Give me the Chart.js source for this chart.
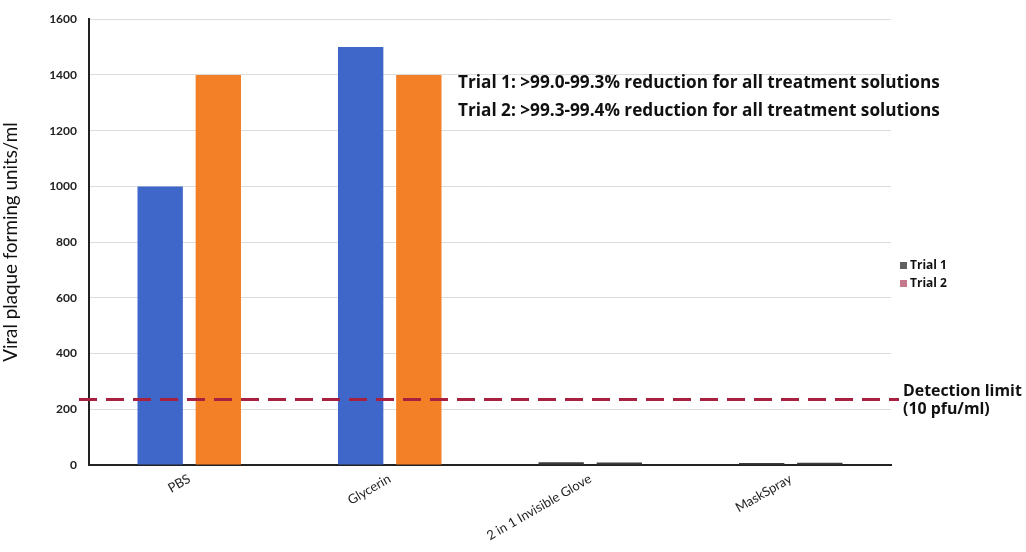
<!DOCTYPE html>
<html>
<head>
<meta charset="utf-8">
<script src="https://cdn.jsdelivr.net/npm/chart.js@4.4.1/dist/chart.umd.min.js"></script>
<style>
  html, body { margin:0; padding:0; background:#fff; }
  #wrap { width:1026px; height:552px; position:relative; }
</style>
</head>
<body>
<div id="wrap"><canvas id="myChart" width="1026" height="552"></canvas></div>
<script>
//-------------datos-----------------//
const categorias = ['PBS', 'Glycerin', '2 in 1 Invisible Glove', 'MaskSpray'];
const trial1 = [1000, 1500, 10, 7];
const trial2 = [1400, 1400, 9, 8];
const serieNombres = ['Trial 1', 'Trial 2'];
const limiteDeteccion = 235;
const notaLineas = ['Trial 1: >99.0-99.3% reduction for all treatment solutions',
                    'Trial 2: >99.3-99.4% reduction for all treatment solutions'];
const limiteTexto = ['Detection limit', '(10 pfu/ml)'];
const ejeY = 'Viral plaque forming units/ml';
//-----------------------------------//

const FUENTE = 'Lato, "Open Sans", sans-serif';
const FUENTE2 = '"Open Sans", Lato, sans-serif';
const AZUL = '#3f67c9';
const NARANJA = '#f37f27';

// tamaño de letra para que el texto ocupe un ancho dado
function tamFuente(c, texto, ancho, peso, familia){
	c.font = peso + ' 20px ' + familia;
	return Math.round(20 * ancho / c.measureText(texto).width * 10) / 10;
}

function colorBarra(base){
	// las barras casi vacias se ven como una linea oscura
	return function(ctx){
		return (ctx.raw < 50) ? '#3c3c3c' : base;
	};
}

const extras = {
	id: 'extras',
	afterDatasetsDraw(chart){
		const c = chart.ctx;
		const y = chart.scales.y.getPixelForValue(limiteDeteccion);
		const area = chart.chartArea;
		c.save();
		// linea de limite de deteccion
		c.strokeStyle = '#a8203f';
		c.lineWidth = 3;
		c.setLineDash([18, 9]);
		c.beginPath();
		c.moveTo(area.left - 10, y);
		c.lineTo(area.right + 8, y);
		c.stroke();
		c.setLineDash([]);

		c.fillStyle = '#111';
		c.textBaseline = 'middle';
		c.textAlign = 'left';
		var t = tamFuente(c, limiteTexto[0], 119, 'bold', FUENTE2);
		c.font = 'bold ' + t + 'px ' + FUENTE2;
		c.fillText(limiteTexto[0], 903, y - 8);
		c.fillText(limiteTexto[1], 903, y + 10);

		t = tamFuente(c, notaLineas[0], 483, 'bold', FUENTE2);
		c.font = 'bold ' + t + 'px ' + FUENTE2;
		c.fillText(notaLineas[0], 458, 83);
		c.fillText(notaLineas[1], 458, 111);

		// leyenda
		const colores = ['#5f5f5f', '#c47a8a'];
		c.font = 'bold 12px ' + FUENTE2;
		for (var i = 0; i < serieNombres.length; i++) {
			const ly = 266 + i * 18;
			c.fillStyle = colores[i];
			c.fillRect(900, ly - 4, 7, 7);
			c.fillStyle = '#111';
			c.fillText(serieNombres[i], 910, ly);
		}
		c.restore();
	}
};

const ctx = document.getElementById('myChart').getContext('2d');
const tamEjeY = tamFuente(ctx, ejeY, 240, 'normal', FUENTE);

const myChart = new Chart(ctx, {
	type: 'bar',
	data: {
		labels: categorias,
		datasets: [{
			label: serieNombres[0],
			data: trial1,
			backgroundColor: colorBarra(AZUL),
			categoryPercentage: 0.58,
			barPercentage: 0.78
		}, {
			label: serieNombres[1],
			data: trial2,
			backgroundColor: colorBarra(NARANJA),
			categoryPercentage: 0.58,
			barPercentage: 0.78
		}]
	},
	options: {
		responsive: false,
		animation: false,
		layout: { padding: { left: 0, right: 135, top: 14, bottom: 0 } },
		plugins: {
			legend: { display: false },
			tooltip: { enabled: false }
		},
		scales: {
			x: {
				grid: { display: false, drawTicks: false },
				border: { display: true, color: '#222', width: 2 },
				ticks: {
					color: '#222',
					font: { family: FUENTE, size: 13 },
					minRotation: 30,
					maxRotation: 30,
					padding: 6
				},
				afterFit: function(scale){ scale.height = 87; }
			},
			y: {
				min: 0,
				max: 1600,
				ticks: {
					stepSize: 200,
					color: '#222',
					font: { family: FUENTE, size: 12, weight: 'bold' },
					padding: 12,
					callback: function(v){ return v; }
				},
				grid: { color: '#dcdcdc', lineWidth: 1, drawTicks: false },
				border: { display: true, color: '#222', width: 2 },
				title: {
					display: true,
					text: ejeY,
					color: '#111',
					font: { family: FUENTE, size: tamEjeY },
					padding: { top: 0, bottom: 4 }
				},
				afterFit: function(scale){ scale.width = 89; }
			}
		}
	},
	plugins: [extras]
});
</script>
</body>
</html>
